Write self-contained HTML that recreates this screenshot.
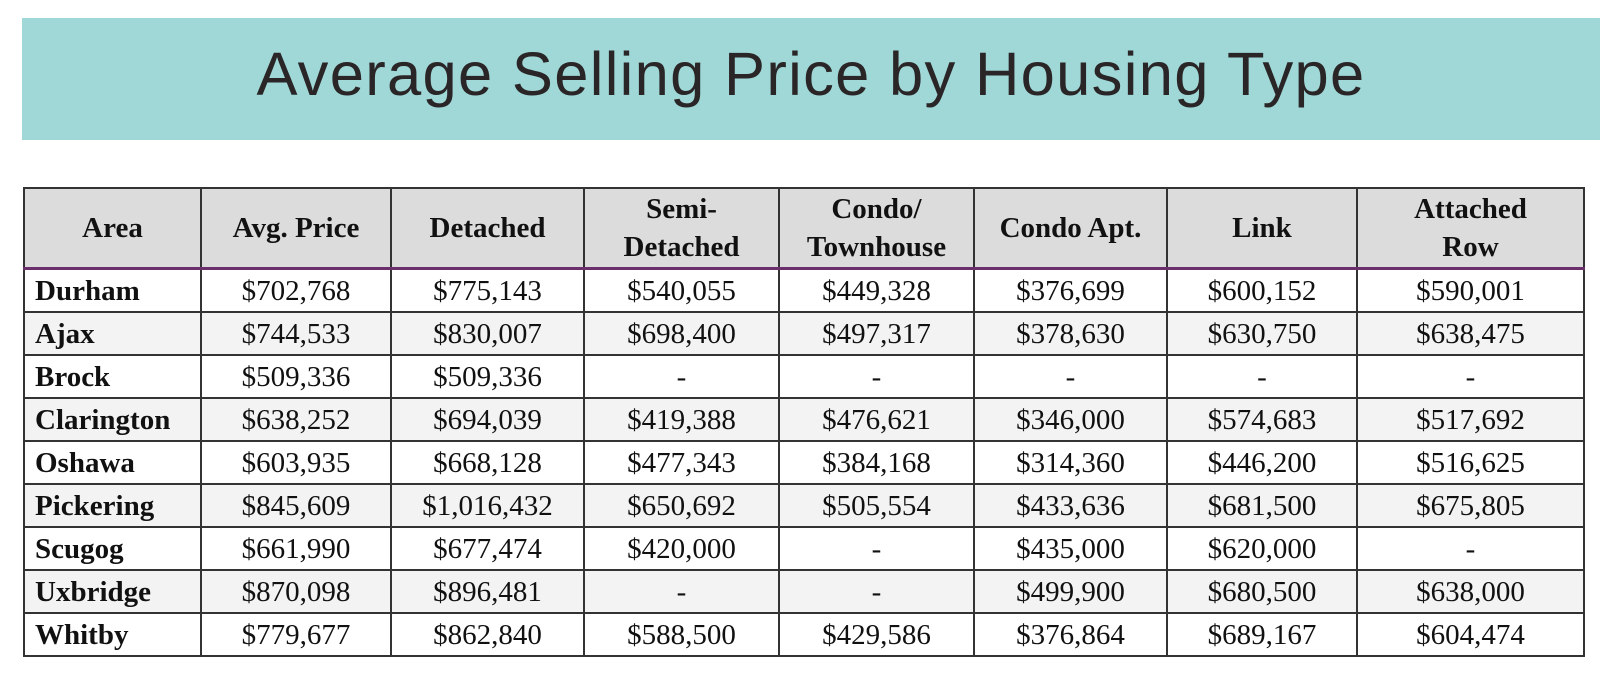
<!DOCTYPE html>
<html><head><meta charset="utf-8">
<style>
html,body{margin:0;padding:0;background:#fff;width:1600px;height:690px;overflow:hidden;position:relative}
.banner{position:absolute;left:22px;top:18px;width:1578px;height:122px;background:#a0d7d7}
.banner h1{margin:0;position:absolute;left:0;width:1578px;top:21px;text-align:center;font-family:"Liberation Sans",sans-serif;font-weight:normal;font-size:61.5px;color:#2a2627;letter-spacing:1.3px}
table{position:absolute;left:23px;top:187px;border-collapse:collapse;font-family:"Liberation Serif",serif;color:#111;font-size:29px;table-layout:fixed;width:1560px}
td,th{border:2.5px solid #333;text-align:center;padding:0;height:41px;line-height:38px}
th{background:#dcdcdc;font-weight:bold;height:78px;line-height:38px;border-bottom:3px solid #6b2f6b}
td.a{text-align:left;font-weight:bold;padding-left:10px}
tr.alt td{background:#f3f3f3}
</style></head><body>
<div class="banner"><h1>Average Selling Price by Housing Type</h1></div>
<table>
<colgroup><col style="width:177px"><col style="width:190px"><col style="width:193px"><col style="width:195px"><col style="width:195px"><col style="width:193px"><col style="width:190px"><col style="width:227px"></colgroup>
<tr><th>Area</th><th>Avg. Price</th><th>Detached</th><th>Semi-<br>Detached</th><th>Condo/<br>Townhouse</th><th>Condo Apt.</th><th>Link</th><th>Attached<br>Row</th></tr>
<tr><td class="a">Durham</td><td>$702,768</td><td>$775,143</td><td>$540,055</td><td>$449,328</td><td>$376,699</td><td>$600,152</td><td>$590,001</td></tr>
<tr class="alt"><td class="a">Ajax</td><td>$744,533</td><td>$830,007</td><td>$698,400</td><td>$497,317</td><td>$378,630</td><td>$630,750</td><td>$638,475</td></tr>
<tr><td class="a">Brock</td><td>$509,336</td><td>$509,336</td><td>-</td><td>-</td><td>-</td><td>-</td><td>-</td></tr>
<tr class="alt"><td class="a">Clarington</td><td>$638,252</td><td>$694,039</td><td>$419,388</td><td>$476,621</td><td>$346,000</td><td>$574,683</td><td>$517,692</td></tr>
<tr><td class="a">Oshawa</td><td>$603,935</td><td>$668,128</td><td>$477,343</td><td>$384,168</td><td>$314,360</td><td>$446,200</td><td>$516,625</td></tr>
<tr class="alt"><td class="a">Pickering</td><td>$845,609</td><td>$1,016,432</td><td>$650,692</td><td>$505,554</td><td>$433,636</td><td>$681,500</td><td>$675,805</td></tr>
<tr><td class="a">Scugog</td><td>$661,990</td><td>$677,474</td><td>$420,000</td><td>-</td><td>$435,000</td><td>$620,000</td><td>-</td></tr>
<tr class="alt"><td class="a">Uxbridge</td><td>$870,098</td><td>$896,481</td><td>-</td><td>-</td><td>$499,900</td><td>$680,500</td><td>$638,000</td></tr>
<tr><td class="a">Whitby</td><td>$779,677</td><td>$862,840</td><td>$588,500</td><td>$429,586</td><td>$376,864</td><td>$689,167</td><td>$604,474</td></tr>
</table>
</body></html>
